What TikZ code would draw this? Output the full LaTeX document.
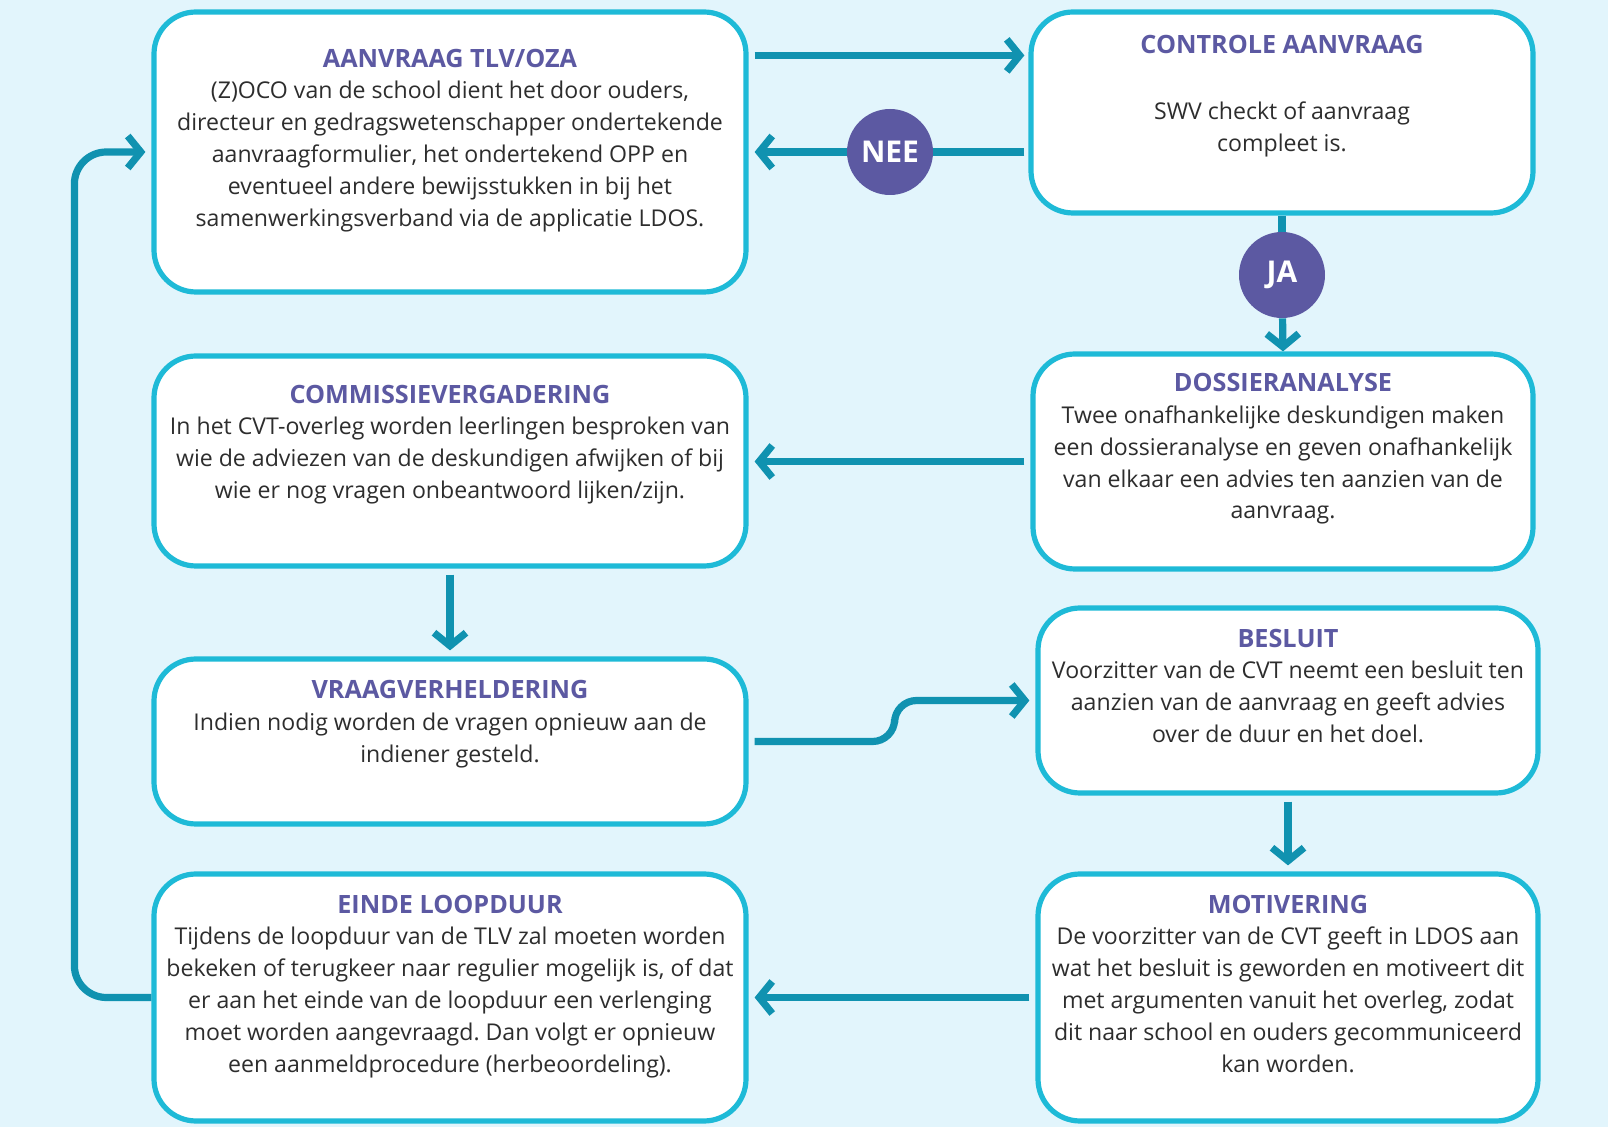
\documentclass[tikz,border=0pt]{standalone}
\usepackage{fontspec}
\setmainfont{Open Sans}
\usetikzlibrary{positioning,arrows.meta}
\definecolor{hgblau}{RGB}{226,245,252}
\definecolor{rand}{RGB}{30,186,215}
\definecolor{pfeil}{RGB}{16,146,176}
\definecolor{lila}{RGB}{92,89,162}
\definecolor{schrift}{RGB}{45,45,45}
\newcommand{\titel}[1]{{\fontsize{12.6}{15.9}\selectfont\bfseries\color{lila}#1}}
\frenchspacing

\begin{document}
\begin{tikzpicture}[x=0.5pt,y=-0.5pt,
  kasten/.style={draw=rand, line width=2.6pt, fill=white, rounded corners=21pt, inner sep=0pt},
  beschrift/.style={align=center, inner sep=0pt, font=\fontsize{11.55}{15.9}\selectfont, text=schrift},
  pfeil/.style={draw=pfeil, line width=3.6pt, -{Straight Barb[length=6.5pt,width=16pt]}},
  linie/.style={draw=pfeil, line width=3.6pt},
  kreis/.style={circle, fill=lila, minimum size=43pt, inner sep=0pt, text=white, font=\fontsize{15}{17}\selectfont\bfseries}]
  % Hintergrund
  \fill[hgblau] (0,0) rectangle (1608,1127);
  \useasboundingbox (0,0) rectangle (1608,1127);

  % Kästen links
  \node[kasten, minimum width=296pt, minimum height=140pt] (aanvraag) at (450,152) {};
  \node[kasten, minimum width=296pt, minimum height=105pt] (commissie) at (450,461) {};
  \node[kasten, minimum width=296pt, minimum height=82.5pt] (vraag) at (450,741.5) {};
  \node[kasten, minimum width=296pt, minimum height=123.5pt] (einde) at (450,997.5) {};

  % Kästen rechts
  \node[kasten, minimum width=251pt, minimum height=100.5pt] (controle) at (1282,112.5) {};
  \node[kasten, minimum width=250pt, minimum height=107.5pt] (dossier) at (1283,461.5) {};
  \node[kasten, minimum width=250pt, minimum height=92.5pt] (besluit) at (1288,700.5) {};
  \node[kasten, minimum width=250pt, minimum height=123.5pt] (motivering) at (1288,997.5) {};

  % Beschriftung
  \node[beschrift, below=19.5pt of aanvraag.north] (t-aanvraag) {\titel{AANVRAAG TLV/OZA}\\
    (Z)OCO van de school dient het door ouders,\\
    directeur en gedragswetenschapper ondertekende\\
    aanvraagformulier, het ondertekend OPP en\\
    eventueel andere bewijsstukken in bij het\\
    samenwerkingsverband via de applicatie LDOS.};
  \node[beschrift, below=12.5pt of controle.north] (t-controle) {\titel{CONTROLE AANVRAAG}\\[17.5pt]
    SWV checkt of aanvraag\\
    compleet is.};
  \node[beschrift, below=15.5pt of commissie.north] (t-commissie) {\titel{COMMISSIEVERGADERING}\\
    In het CVT-overleg worden leerlingen besproken van\\
    wie de adviezen van de deskundigen afwijken of bij\\
    wie er nog vragen onbeantwoord lijken/zijn.};
  \node[beschrift, below=10.8pt of dossier.north] (t-dossier) {\titel{DOSSIERANALYSE}\\
    Twee onafhankelijke deskundigen maken\\
    een dossieranalyse en geven onafhankelijk\\
    van elkaar een advies ten aanzien van de\\
    aanvraag.};
  \node[beschrift, below=11.8pt of vraag.north] (t-vraag) {\titel{VRAAGVERHELDERING}\\
    Indien nodig worden de vragen opnieuw aan de\\
    indiener gesteld.};
  \node[beschrift, below=11.5pt of besluit.north] (t-besluit) {\titel{BESLUIT}\\
    Voorzitter van de CVT neemt een besluit ten\\
    aanzien van de aanvraag en geeft advies\\
    over de duur en het doel.};
  \node[beschrift, below=11.5pt of einde.north] (t-einde) {\titel{EINDE LOOPDUUR}\\
    Tijdens de loopduur van de TLV zal moeten worden\\
    bekeken of terugkeer naar regulier mogelijk is, of dat\\
    er aan het einde van de loopduur een verlenging\\
    moet worden aangevraagd. Dan volgt er opnieuw\\
    een aanmeldprocedure (herbeoordeling).};
  \node[beschrift, below=11.5pt of motivering.north] (t-motivering) {\titel{MOTIVERING}\\
    De voorzitter van de CVT geeft in LDOS aan\\
    wat het besluit is geworden en motiveert dit\\
    met argumenten vanuit het overleg, zodat\\
    dit naar school en ouders gecommuniceerd\\
    kan worden.};

  % Kreise
  \node[kreis] (nee) at (890,152) {NEE};
  \node[kreis] (ja) at (1282,275) {JA};

  % Pfeile
  \coordinate (a1) at ([xshift=3pt,yshift=-23pt]aanvraag.north east);
  \draw[pfeil, shorten >=2pt] (a1) -- (a1 -| controle.west);
  \draw[linie, shorten <=2pt] (controle.west |- nee) -- (nee);
  \draw[pfeil, shorten >=3pt] (nee) -- (aanvraag.east |- nee);
  \draw[linie] (controle.south) -- (ja);
  \draw[pfeil] (ja) -- (dossier.north);
  \draw[pfeil, shorten <=3pt, shorten >=3pt] (dossier.west) -- (commissie.east |- dossier.west);
  \draw[pfeil, shorten <=3pt, shorten >=3pt] (commissie.south) -- (vraag.north);
  \draw[pfeil, rounded corners=11pt, shorten <=3pt, shorten >=3pt] (vraag.east) -- ++(146,0) |- (besluit.west);
  \draw[pfeil, shorten <=3pt, shorten >=3pt] (besluit.south) -- (motivering.north);
  \draw[pfeil, shorten <=3pt, shorten >=3pt] (motivering.west) -- (einde.east);
  \draw[pfeil, rounded corners=16pt, shorten >=3pt] (einde.west) -- ++(-77,0) |- (aanvraag.west);
\end{tikzpicture}
\end{document}
